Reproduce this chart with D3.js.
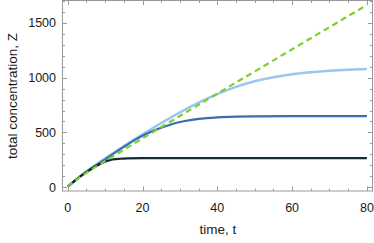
<!DOCTYPE html>
<html><head><meta charset="utf-8">
<script src="https://cdn.jsdelivr.net/npm/d3@7"></script>
<style>body{margin:0;background:#fff}svg{display:block}</style>
</head><body>
<svg id="c" width="374" height="243"></svg>
<script>
const xTicks = [0, 20, 40, 60, 80];
const yTicks = [0, 500, 1000, 1500];
const tBlack = [0, 2, 4, 6, 8, 9, 10, 11, 12, 14, 16, 20, 40, 60, 80];
const zBlack = [5, 62, 115, 160, 200, 218, 233, 245, 253, 260, 263, 265, 265, 265, 265];
const tMid = [0, 5, 10, 15, 18, 20, 22, 25, 28, 31, 35, 40, 45, 50, 60, 80];
const zMid = [5, 140, 255, 368, 432, 470, 502, 542, 577, 602, 623, 637, 644, 647, 648, 648];
const tLight = [0, 5, 10, 15, 20, 25, 30, 35, 40, 45, 50, 55, 60, 65, 70, 75, 80];
const zLight = [5, 145, 262, 375, 482, 585, 683, 772, 850, 915, 966, 1003, 1030, 1049, 1063, 1072, 1078];
const tGreen = [0, 2, 4, 6, 8, 10, 15, 20, 30, 40, 50, 60, 70, 80];
const zGreen = [5, 62, 110, 155, 197, 238, 342, 446, 650, 854, 1056, 1258, 1460, 1662];

const svg = d3.select("#c");
const L = 62.5, R = 372.5, T = 0.5, B = 191;
const x = d3.scaleLinear().domain([-1.4, 81.5]).range([L, R]);
const y = d3.scaleLinear().domain([-34, 1703]).range([B, T]);

const frame = "#999";
svg.append("rect").attr("x", L).attr("y", T).attr("width", R - L).attr("height", B - T)
  .attr("fill", "none").attr("stroke", frame).attr("stroke-width", 1);

const g = svg.append("g");
d3.range(0, 81, 5).forEach(v => {
  const major = v % 20 === 0;
  const len = major ? 4.5 : 2.5;
  const px = Math.round(x(v)) + 0.5;
  g.append("line").attr("x1", px).attr("x2", px).attr("y1", B).attr("y2", B - len).attr("stroke", frame);
  g.append("line").attr("x1", px).attr("x2", px).attr("y1", T).attr("y2", T + len).attr("stroke", frame);
});
d3.range(0, 1701, 100).forEach(v => {
  const major = v % 500 === 0;
  const len = major ? 4.5 : 2.5;
  const py = Math.round(y(v)) + 0.5;
  g.append("line").attr("y1", py).attr("y2", py).attr("x1", L).attr("x2", L + len).attr("stroke", frame);
  g.append("line").attr("y1", py).attr("y2", py).attr("x1", R).attr("x2", R - len).attr("stroke", frame);
});
const font = "Liberation Sans, Arial, sans-serif";
xTicks.forEach(v => {
  svg.append("text").attr("x", x(v)).attr("y", 212).attr("text-anchor", "middle")
    .attr("font-family", font).attr("font-size", 12.5).attr("fill", "#1a1a1a").text(v);
});
yTicks.forEach(v => {
  svg.append("text").attr("x", 56).attr("y", y(v) + 4.5).attr("text-anchor", "end")
    .attr("font-family", font).attr("font-size", 12.5).attr("fill", "#1a1a1a").text(v);
});
svg.append("text").attr("x", 218).attr("y", 234).attr("text-anchor", "middle")
  .attr("font-family", font).attr("font-size", 13.5).attr("fill", "#1a1a1a").text("time, t");
svg.append("text").attr("transform", "translate(17,96) rotate(-90)").attr("text-anchor", "middle")
  .attr("font-family", font).attr("font-size", 13.5).attr("fill", "#1a1a1a").text("total concentration, Z");

const line = d3.line().x(d => x(d[0])).y(d => y(d[1])).curve(d3.curveMonotoneX);
svg.append("clipPath").attr("id", "cp").append("rect")
  .attr("x", L).attr("y", T).attr("width", R - L).attr("height", B - T);
const series = [
  {t: tLight, z: zLight, color: "#9cc6ef", w: 2.5, dash: null},
  {t: tMid, z: zMid, color: "#3b6cae", w: 2.2, dash: null},
  {t: tBlack, z: zBlack, color: "#0f2a33", w: 2.2, dash: null},
  {t: tGreen, z: zGreen, color: "#7fcf2a", w: 2.2, dash: "6,4"}
];
const pg = svg.append("g").attr("clip-path", "url(#cp)");
series.forEach(s => {
  pg.append("path").attr("d", line(s.t.map((t, i) => [t, s.z[i]])))
    .attr("fill", "none").attr("stroke", s.color).attr("stroke-width", s.w)
    .attr("stroke-dasharray", s.dash);
});
</script>
</body></html>
